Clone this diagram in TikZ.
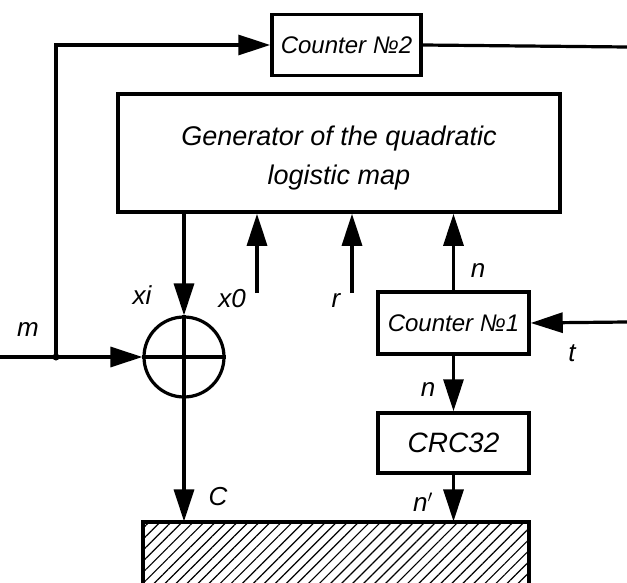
\documentclass[tikz,border=0pt]{standalone}
\usepackage{fontspec}
\setmainfont{Liberation Sans}
\usetikzlibrary{arrows.meta,patterns.meta}

\begin{document}
\begin{tikzpicture}[x=1pt,y=-1pt,line width=3.2pt,
    >={Triangle[length=32pt,width=20pt]},
    blk/.style={draw,line width=3.5pt,inner sep=0pt},
    cnt/.style={blk,minimum width=151pt,minimum height=62pt,font=\fontsize{24}{28}\selectfont\itshape},
    lbl/.style={font=\fontsize{26}{30}\selectfont\itshape}]
    \clip (0,0) rectangle (627,583);
    % blocks
    \node[blk,minimum width=442pt,minimum height=118pt,align=center,text depth=0pt,
      font=\fontsize{27}{39}\selectfont\itshape] (gen) at (339,153) {\rule{0pt}{24pt}Generator of the quadratic\\logistic map};
    \node[cnt,minimum width=149pt,minimum height=61pt] (cnt2) at (346.5,45) {Counter №2};
    \node[cnt] (cnt1) at (453.5,323) {Counter №1};
    \node[cnt,minimum height=60pt,font=\fontsize{28}{32}\selectfont\itshape] (crc) at (453.5,443) {CRC32};
    \node[draw,circle,minimum size=80pt,inner sep=0pt] (xor) at (184,357) {};
    \node[blk,minimum width=386pt,minimum height=130pt,
      pattern={Lines[angle=45,distance=7.8pt,line width=1.2pt]}] (store) at (336,587) {};
    \draw (xor.north) -- (xor.south) (xor.west) -- (xor.east);
    % inputs
    \coordinate (min) at (0,357);
    \coordinate (tap) at (56,357);
    \coordinate (tin) at (627,322);
    \coordinate (x0) at (257,293);
    \coordinate (r) at (352,293);
    \coordinate (cout) at (627,47);
    % connectors
    \draw[->] (min) -- (xor.west);
    \fill (tap) circle (3.5pt);
    \draw[->] (tap) |- (cnt2.west);
    \draw (cnt2.east) -- (cout);
    \draw[->] (xor.north |- gen.south) -- (xor.north);
    \draw[->] (x0) -- (x0 |- gen.south);
    \draw[->] (r) -- (r |- gen.south);
    \draw[->] (cnt1.north) -- (cnt1.north |- gen.south);
    \draw[->] (tin) -- (cnt1.east);
    \draw[->] (cnt1.south) -- (crc.north);
    \draw[->] (crc.south) -- (crc.south |- store.north);
    \draw[->] (xor.south) -- (xor.south |- store.north);
    % labels
    \node[lbl] (lm) at (28,330) {m};
    \node[lbl] (lxi) at (142,295) {xi};
    \node[lbl] (lx0) at (232,299) {x0};
    \node[lbl] (lr) at (336,301) {r};
    \node[lbl] (ln1) at (478,271) {n};
    \node[lbl] (lt) at (572,353) {t};
    \node[lbl] (ln2) at (428,390) {n};
    \node[lbl] (lc) at (218,497) {C};
    \node[lbl] (ln3) at (423,502) {n$'$};
\end{tikzpicture}
\end{document}
